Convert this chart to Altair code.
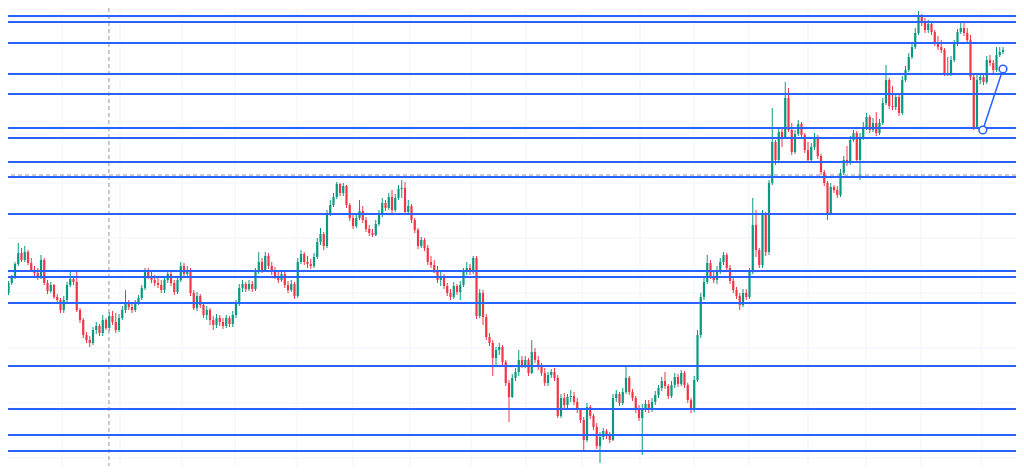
import altair as alt
import pandas as pd

# ---- data (price units, one candle per index) ----
first_open = 200
closes = [
    190, 187, 197, 203, 216, 227, 220, 228, 217, 210,
    207, 203, 220, 197, 189, 195, 183, 180, 170, 180,
    195, 201, 198, 170, 160, 145, 140, 137, 150, 154,
    147, 160, 152, 164, 158, 150, 162, 170, 177, 173,
    170, 177, 182, 192, 209, 203, 200, 197, 195, 190,
    200, 206, 197, 188, 200, 214, 206, 210, 187, 172,
    184, 175, 165, 170, 160, 155, 162, 158, 154, 162,
    156, 165, 176, 192, 196, 191, 196, 191, 208, 218,
    210, 224, 214, 208, 204, 200, 206, 195, 190, 196,
    184, 218, 226, 218, 216, 214, 223, 238, 246, 234,
    266, 275, 283, 296, 287, 294, 275, 262, 254, 262,
    269, 260, 251, 247, 245, 256, 266, 277, 272, 283,
    270, 282, 291, 292, 268, 274, 260, 250, 234, 240,
    232, 218, 215, 210, 200, 204, 194, 187, 183, 194,
    188, 195, 208, 212, 208, 222, 164, 187, 163, 143,
    137, 122, 130, 133, 118, 97, 83, 102, 108, 120,
    115, 120, 107, 128, 120, 113, 107, 97, 105, 108,
    102, 64, 82, 75, 83, 84, 78, 70, 60, 40,
    73, 64, 53, 34, 43, 49, 44, 40, 82, 86,
    77, 88, 102, 88, 82, 70, 62, 72, 76, 70,
    78, 85, 92, 99, 94, 84, 95, 103, 96, 107,
    95, 80, 70, 100, 145, 183, 198, 217, 204, 200,
    209, 218, 225, 212, 199, 190, 184, 175, 187, 183,
    208, 255, 230, 215, 265, 228, 297, 338, 320, 348,
    343, 382, 350, 328, 346, 356, 345, 330, 320, 333,
    343, 324, 308, 297, 267, 293, 290, 285, 307, 320,
    317, 340, 347, 320, 343, 353, 363, 350, 357, 347,
    357, 377, 400, 374, 373, 383, 367, 400, 410, 423,
    433, 447, 464, 457, 450, 456, 448, 437, 433, 430,
    407, 406, 420, 437, 448, 452, 447, 440, 403, 353,
    400, 403, 398, 420, 417, 410, 425, 428, 430,
]
highs = [
    203, 197, 199, 205, 218, 237, 232, 234, 230, 222,
    214, 212, 225, 222, 200, 198, 196, 186, 182, 184,
    198, 210, 204, 210, 172, 162, 148, 144, 153, 158,
    156, 165, 162, 168, 169, 167, 166, 174, 190, 180,
    178, 180, 185, 195, 212, 212, 208, 205, 204, 200,
    203, 210, 208, 200, 204, 218, 217, 214, 212, 190,
    188, 186, 178, 174, 172, 164, 166, 165, 162, 165,
    164, 169, 180, 196, 200, 198, 200, 199, 212, 228,
    222, 228, 227, 218, 213, 209, 210, 208, 199, 200,
    198, 222, 230, 228, 224, 221, 227, 242, 252, 248,
    270, 280, 287, 298, 297, 297, 295, 277, 265, 266,
    280, 274, 263, 255, 251, 260, 270, 282, 280, 287,
    290, 286, 295, 300, 298, 280, 276, 262, 252, 243,
    242, 235, 224, 220, 214, 208, 206, 197, 191, 198,
    196, 199, 212, 218, 216, 224, 224, 191, 190, 166,
    147, 140, 133, 137, 135, 120, 100, 106, 112, 130,
    124, 124, 122, 140, 132, 124, 117, 112, 108, 111,
    112, 105, 86, 87, 86, 90, 88, 82, 72, 63,
    77, 75, 66, 57, 48, 52, 51, 48, 86, 90,
    88, 92, 113, 104, 91, 84, 75, 76, 80, 80,
    82, 89, 95, 103, 108, 96, 99, 107, 106, 110,
    109, 97, 82, 104, 150, 187, 202, 225, 220, 210,
    214, 222, 228, 227, 215, 202, 193, 187, 191, 191,
    212, 282, 270, 232, 270, 268, 300, 372, 340, 352,
    353, 398, 392, 357, 350, 360, 358, 347, 338, 337,
    347, 345, 326, 310, 299, 297, 295, 294, 311, 324,
    334, 344, 350, 349, 347, 358, 367, 365, 362, 368,
    361, 382, 415, 402, 394, 387, 385, 404, 414, 427,
    437, 452, 469, 466, 462, 460, 458, 450, 444, 440,
    432, 423, 424, 440, 451, 457, 457, 452, 445, 405,
    405, 407, 406, 424, 425, 420, 433, 433, 433,
]
lows = [
    187, 184, 185, 195, 201, 214, 218, 218, 215, 208,
    204, 200, 201, 195, 186, 187, 181, 177, 167, 167,
    177, 193, 195, 168, 157, 142, 137, 133, 135, 146,
    144, 144, 150, 149, 155, 147, 148, 160, 167, 170,
    167, 168, 175, 180, 190, 201, 197, 194, 192, 187,
    187, 197, 194, 185, 186, 198, 203, 202, 184, 170,
    169, 172, 162, 160, 155, 150, 152, 154, 151, 152,
    153, 153, 162, 174, 188, 188, 189, 188, 189, 206,
    207, 208, 211, 205, 201, 197, 198, 192, 187, 188,
    181, 182, 216, 215, 212, 211, 212, 221, 235, 230,
    232, 264, 273, 281, 284, 284, 272, 259, 251, 252,
    260, 257, 248, 244, 243, 244, 254, 263, 269, 270,
    267, 268, 280, 282, 265, 266, 257, 247, 231, 232,
    229, 215, 212, 207, 197, 194, 191, 184, 180, 181,
    185, 180, 193, 205, 205, 206, 161, 162, 155, 140,
    134, 104, 113, 125, 115, 94, 58, 82, 99, 104,
    112, 112, 104, 106, 117, 110, 104, 94, 94, 102,
    99, 62, 62, 72, 72, 78, 75, 67, 57, 28,
    38, 61, 50, 31, 17, 40, 41, 37, 39, 78,
    74, 75, 86, 85, 79, 67, 59, 25, 68, 67,
    68, 75, 82, 89, 91, 81, 82, 92, 93, 94,
    92, 77, 67, 68, 98, 142, 180, 196, 201, 197,
    196, 206, 215, 209, 196, 187, 181, 170, 173, 180,
    181, 206, 223, 212, 212, 224, 225, 295, 315, 318,
    333, 341, 348, 325, 326, 344, 342, 327, 317, 319,
    330, 321, 305, 294, 260, 266, 287, 282, 283, 305,
    314, 315, 338, 317, 300, 340, 350, 347, 348, 344,
    345, 355, 375, 371, 370, 370, 364, 365, 398, 408,
    421, 431, 445, 454, 447, 447, 445, 434, 430, 427,
    404, 404, 404, 418, 434, 446, 444, 437, 400, 350,
    352, 396, 395, 396, 414, 407, 408, 423, 426,
]
levels = [464, 458, 437, 406, 386, 352, 342, 318, 303, 266, 209, 203, 177, 114, 71, 45, 29]
grid_x = [1.5, 18.5, 36.3, 55.4, 71.7, 90.5, 108.0, 125.5, 144.3, 161.2,
          178.5, 196.3, 212.9, 229.8, 248.0, 265.8, 282.8, 301.5]
grid_y = [462, 407, 352, 297, 242, 187, 132, 77, 22]
cross_x = [32.9]
cross_y = [305]
trend_x = [301.8, 308.0]
trend_y = [350, 411]

# ---- tables ----
opens = [first_open] + closes[:-1]
df = pd.DataFrame({"i": list(range(len(closes))), "open": opens, "close": closes,
                   "high": highs, "low": lows})
df_lv = pd.DataFrame({"p": levels})
df_gx = pd.DataFrame({"i": grid_x})
df_gy = pd.DataFrame({"p": grid_y})
df_cx = pd.DataFrame({"i": cross_x})
df_cy = pd.DataFrame({"p": cross_y})
df_tr = pd.DataFrame({"i": trend_x, "p": trend_y})

GREEN = "#089981"
RED = "#f23645"
BLUE = "#2962ff"

xs = alt.Scale(domain=[1.846, 312.0], nice=False, zero=False)
ys = alt.Scale(domain=[14, 472], nice=False, zero=False)

color = alt.condition("datum.close >= datum.open", alt.value(GREEN), alt.value(RED))

vgrid = alt.Chart(df_gx).mark_rule(color="#f0f3fa", strokeWidth=1).encode(
    x=alt.X("i:Q", scale=xs, axis=None))
hgrid = alt.Chart(df_gy).mark_rule(color="#f0f3fa", strokeWidth=1).encode(
    y=alt.Y("p:Q", scale=ys, axis=None))
cross_v = alt.Chart(df_cx).mark_rule(color="#9598a1", strokeWidth=1, strokeDash=[4, 3]).encode(
    x=alt.X("i:Q", scale=xs, axis=None))
cross_h = alt.Chart(df_cy).mark_rule(color="#9598a1", strokeWidth=1, strokeDash=[4, 3]).encode(
    y=alt.Y("p:Q", scale=ys, axis=None))

wicks = alt.Chart(df).mark_rule(strokeWidth=1, clip=True).encode(
    x=alt.X("i:Q", scale=xs, axis=None),
    y=alt.Y("low:Q", scale=ys, axis=None),
    y2="high:Q",
    color=color,
)
bodies = alt.Chart(df).mark_rule(strokeWidth=2.2, clip=True).encode(
    x=alt.X("i:Q", scale=xs, axis=None),
    y=alt.Y("open:Q", scale=ys, axis=None),
    y2="close:Q",
    color=color,
)

lv = alt.Chart(df_lv).mark_rule(color=BLUE, strokeWidth=2).encode(
    y=alt.Y("p:Q", scale=ys, axis=None))

trend = alt.Chart(df_tr).mark_line(color=BLUE, strokeWidth=1.5, clip=True).encode(
    x=alt.X("i:Q", scale=xs, axis=None),
    y=alt.Y("p:Q", scale=ys, axis=None),
)
trend_pts = alt.Chart(df_tr).mark_point(
    shape="circle", filled=True, fill="white", stroke=BLUE, strokeWidth=1.5, size=60, opacity=1
).encode(
    x=alt.X("i:Q", scale=xs, axis=None),
    y=alt.Y("p:Q", scale=ys, axis=None),
)

chart = alt.layer(vgrid, hgrid, cross_v, cross_h, wicks, bodies, lv, trend, trend_pts).properties(
    width=1008, height=458,
    autosize=alt.AutoSizeParams(type="none"),
    padding=0,
    background="white",
).configure_view(stroke=None)

chart.save("out.html", embed_options={"renderer": "svg", "actions": False})
